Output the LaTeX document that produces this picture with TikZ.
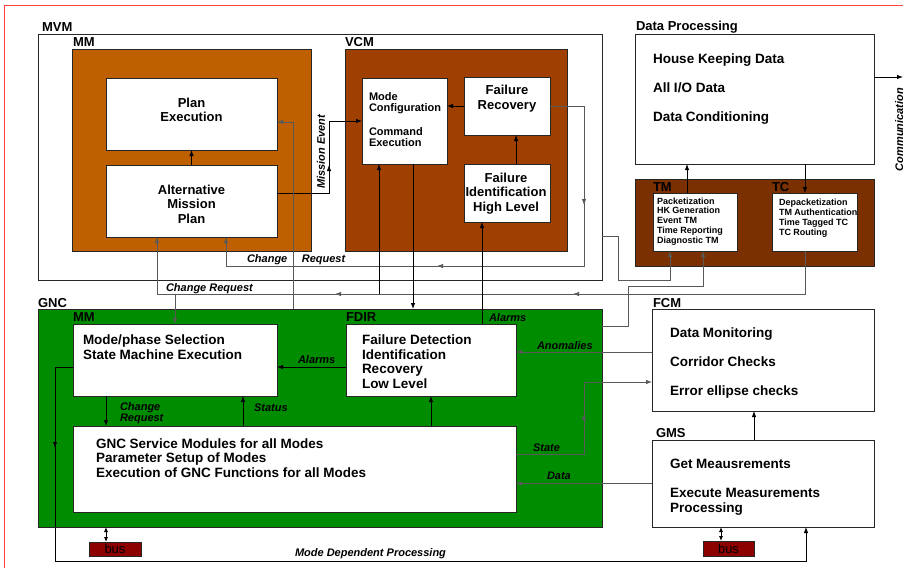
\documentclass[tikz,border=0pt]{standalone}
\usepackage{fontspec}
\setmainfont{Liberation Sans}
\usepackage{tikz}
\usetikzlibrary{arrows.meta, decorations.markings}

\definecolor{mmorange}{HTML}{BF6000}
\definecolor{vcmbrown}{HTML}{A04000}
\definecolor{tmbrown}{HTML}{7A3000}
\definecolor{gncgreen}{HTML}{008C00}
\definecolor{busred}{HTML}{8C0000}

\begin{document}
\begin{tikzpicture}[
    x=1pt, y=-1pt,
    >={Latex[length=6pt, width=4.5pt]},
    every node/.style={inner sep=0pt, outer sep=0pt},
    area/.style={draw=black!85, line width=.8pt, anchor=north west},
    box/.style={area, fill=white},
    tag/.style={anchor=base west, font=\bfseries\fontsize{13}{15}\selectfont},
    txt/.style={anchor=base west, align=left, font=\bfseries\fontsize{13.5}{14.5}\selectfont},
    ctxt/.style={anchor=base, align=center, font=\bfseries\fontsize{13}{14.5}\selectfont},
    tmtext/.style={anchor=base west, align=left, font=\bfseries\fontsize{9}{9.7}\selectfont},
    lbl/.style={anchor=base west, align=left, font=\bfseries\itshape\fontsize{11}{10.5}\selectfont},
    wire/.style={draw=black, line width=.8pt},
    greyline/.style={draw=black!65, line width=.8pt},
    midtip/.style={postaction={decorate, decoration={markings,
        mark=at position #1 with {\arrow{Latex[length=6pt, width=4.5pt]}}}}},
    ]
    \useasboundingbox (0,0) rectangle (903,568);
    \draw[red!75] (4,568) -- (4,5) -- (903,5);

    \node[box, minimum width=564pt, minimum height=246pt] (mvm) at (38,34) {};
    \node[tag] (mvmtag) at (42,31) {MVM};
    \node[area, fill=mmorange, minimum width=239pt, minimum height=202pt] (mmv) at (72,49) {};
    \node[tag] (mmvtag) at (73,46) {MM};
    \node[area, fill=vcmbrown, minimum width=222pt, minimum height=202pt] (vcm) at (345,49) {};
    \node[tag] (vcmtag) at (345,46) {VCM};
    \node[box, minimum width=171pt, minimum height=72pt] (pe) at (106,78) {};
    \node[ctxt, font=\bfseries\fontsize{13}{14}\selectfont] (petext) at (191.5,121) {Plan\\Execution};
    \node[box, minimum width=171pt, minimum height=72pt] (amp) at (106,165) {};
    \node[ctxt, font=\bfseries\fontsize{13}{14.3}\selectfont] (amptext) at (191.5,223) {Alternative\\Mission\\Plan};
    \node[box, minimum width=85pt, minimum height=86pt] (mc) at (362,78) {};
    \node[txt, font=\bfseries\fontsize{11}{10.8}\selectfont] (mctext) at (369,146) {Mode\\Configuration\\[13.2pt]Command\\Execution};
    \node[box, minimum width=86pt, minimum height=58pt] (fr) at (464,77) {};
    \node[ctxt, font=\bfseries\fontsize{13}{15}\selectfont] (frtext) at (507,109) {Failure\\Recovery};
    \node[box, minimum width=86pt, minimum height=58pt] (fi) at (464,164) {};
    \node[ctxt] (fitext) at (506,211) {Failure\\Identification\\High Level};

    \node[box, minimum width=239pt, minimum height=130pt] (dp) at (635,34) {};
    \node[tag] (dptag) at (636,30) {Data Processing};
    \node[txt, font=\bfseries\fontsize{13.5}{29}\selectfont] (dptext) at (653,121) {House Keeping Data\\All I/O Data\\Data Conditioning};
    \node[area, fill=tmbrown, minimum width=239pt, minimum height=87pt] (tmtc) at (635,179) {};
    \node[tag] (tmtag) at (653,191) {TM};
    \node[tag] (tctag) at (772,191) {TC};
    \node[box, minimum width=84pt, minimum height=58pt] (tm) at (653,193) {};
    \node[tmtext] (tmlist) at (657,243) {Packetization\\HK Generation\\Event TM\\Time Reporting\\Diagnostic TM};
    \node[box, minimum width=85pt, minimum height=58pt] (tc) at (772,193) {};
    \node[tmtext] (tclist) at (779,235) {Depacketization\\TM Authentication\\Time Tagged TC\\TC Routing};

    \node[area, fill=gncgreen, minimum width=564pt, minimum height=218pt] (gnc) at (38,309) {};
    \node[tag] (gnctag) at (38,307) {GNC};
    \node[tag] (mmgtag) at (73,321) {MM};
    \node[tag] (fdirtag) at (346,321) {FDIR};
    \node[box, minimum width=204pt, minimum height=72pt] (mps) at (73,324) {};
    \node[txt, font=\bfseries\fontsize{13.5}{15}\selectfont] (mpstext) at (83,359) {Mode/phase Selection\\State Machine Execution};
    \node[box, minimum width=170pt, minimum height=72pt] (fdir) at (346,324) {};
    \node[txt] (fdirtext) at (362,388) {Failure Detection\\Identification\\Recovery\\Low Level};
    \node[box, minimum width=443pt, minimum height=86pt] (svc) at (73,426) {};
    \node[txt] (svctext) at (96,477) {GNC Service Modules for all Modes\\Parameter Setup of Modes\\Execution of GNC Functions for all Modes};

    \node[box, minimum width=222pt, minimum height=102pt] (fcm) at (652,309) {};
    \node[tag] (fcmtag) at (653,307) {FCM};
    \node[txt, font=\bfseries\fontsize{13.5}{29}\selectfont] (fcmtext) at (670,395) {Data Monitoring\\Corridor Checks\\Error ellipse checks};
    \node[box, minimum width=222pt, minimum height=87pt] (gms) at (652,440) {};
    \node[tag] (gmstag) at (656,437) {GMS};
    \node[txt] (gmstext) at (670,512) {Get Meausrements\\[14.5pt]Execute Measurements\\Processing};

    \node[area, fill=busred, minimum width=52pt, minimum height=14pt, font=\fontsize{13}{15}\selectfont] (bus1) at (89,542) {bus};
    \node[area, fill=busred, minimum width=51pt, minimum height=15pt, font=\fontsize{13}{15}\selectfont] (bus2) at (703,541) {bus};

    \draw[wire, ->] (amp.north) -- (pe.south);
    \draw[wire, ->] ([xshift=9pt]fi.north) -- ([xshift=9pt]fr.south);
    \draw[wire, ->] (fr.west) -- (fr.west -| mc.east);
    \draw[wire, ->, midtip=80pt] ([yshift=8pt]amp.east) -- ++(52,0) |- (mc.west);
    \draw[greyline, <-] ([yshift=-8pt]pe.east) -- ++(16,0) coordinate (pex) -- (pex |- gnc.north);
    \draw[greyline, ->, midtip=133pt, midtip=341pt] (fr.east) -- ++(34,0) -- ++(0,160) -| ([xshift=34.5pt]amp.south);
    \draw[greyline, ->, midtip=275pt, midtip=513pt] ([xshift=-9.5pt]tc.south) -- ++(0,43) coordinate (crl) -| ([xshift=-34.5pt]amp.south);
    \draw[greyline, ->] (crl -| mps.north) -- (mps.north);
    \draw[wire, <-] ([xshift=-25.5pt]mc.south) coordinate (mcin) -- (mcin |- crl);
    \draw[wire, ->] ([xshift=8.5pt]mc.south) coordinate (mcout) -- (mcout |- gnc.north);
    \draw[wire, <-] ([xshift=-25pt]fi.south) coordinate (fiin) -- (fiin |- fdir.north);

    \draw[wire, ->] ([yshift=-7pt]fdir.west) coordinate (alm) -- (alm -| mps.east);
    \draw[wire, ->] ([xshift=-69pt]mps.south) coordinate (crq) -- (crq |- svc.north);
    \draw[wire, <-] ([xshift=68pt]mps.south) coordinate (sts) -- (sts |- svc.north);
    \draw[wire, <-] (fdir.south) -- (fdir.south |- svc.north);
    \draw[greyline, ->] ([yshift=8pt]fcm.west) coordinate (anm) -- (anm -| fdir.east);
    \draw[greyline, ->, midtip=108pt] ([yshift=15pt]svc.east) -- ++(68,0) |- ([yshift=-22pt]fcm.west);
    \draw[greyline, ->] (gms.west) -- (gms.west -| svc.east);
    \draw[wire, ->] ([xshift=-9pt]gms.north) coordinate (gf) -- (gf |- fcm.south);
    \draw[wire, ->, midtip=99pt] ([yshift=-7pt]mps.west) -- ++(-18,0) -- ++(0,194) -| ([xshift=43pt]gms.south);
    \draw[wire, {Latex[length=5pt, width=4pt]}-{Latex[length=5pt, width=4pt]}] ([xshift=-9pt]bus1.north) coordinate (b1) -- (b1 |- gnc.south);
    \draw[wire, {Latex[length=5pt, width=4pt]}-{Latex[length=5pt, width=4pt]}] ([xshift=-7.5pt]bus2.north) coordinate (b2) -- (b2 |- gms.south);

    \draw[wire, ->] ([xshift=-8pt]tm.north) coordinate (tmo) -- (tmo |- dp.south);
    \draw[wire, <-] ([xshift=-9.5pt]tc.north) coordinate (tci) -- (tci |- dp.south);
    \draw[wire, ->] ([yshift=22pt]dp.east) -- ++(29,0);
    \draw[greyline, ->] ([yshift=-79pt]mvm.east) -- ++(16,0) -- ++(0,44) -| ([xshift=-25pt]tm.south);
    \draw[greyline, ->] ([yshift=92pt]gnc.east) -- ++(26,0) -- ++(0,-40) -| ([xshift=8pt]tm.south);

    \node[lbl] (crup) at (247,262) {Change\hspace*{14.5pt}Request};
    \node[lbl] (crlow) at (166,291) {Change Request};
    \node[lbl, rotate=90, anchor=center] (mev) at (321,152) {Mission Event};
    \node[lbl] (alarmup) at (489,321) {Alarms};
    \node[lbl] (alarmmm) at (298,363) {Alarms};
    \node[lbl] (crgnc) at (120,421) {Change\\Request};
    \node[lbl] (status) at (254,411) {Status};
    \node[lbl] (anom) at (537,349) {Anomalies};
    \node[lbl] (state) at (533,451) {State};
    \node[lbl] (data) at (547,479) {Data};
    \node[lbl] (mdp) at (295,556) {Mode Dependent Processing};
    \node[lbl, rotate=90, anchor=base east] (comm) at (903,88) {Communication};
\end{tikzpicture}
\end{document}
